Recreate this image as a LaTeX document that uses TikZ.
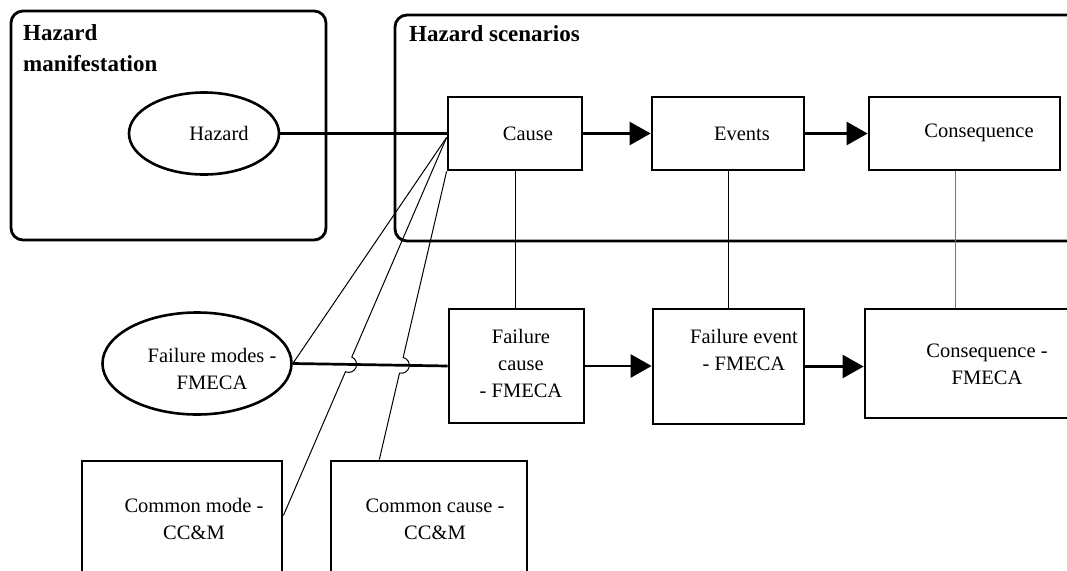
\documentclass[tikz,border=0pt]{standalone}
\usepackage{fontspec}
\setmainfont{Liberation Serif}
\usetikzlibrary{arrows.meta,shapes.geometric,calc,intersections}
\newcommand\stk[2][c]{\begin{tabular}[t]{@{}#1@{}}#2\end{tabular}}
\begin{document}
\begin{tikzpicture}[x=1pt,y=-1pt,
 container/.style={draw,line width=2.8pt,rounded corners=12pt,inner sep=0pt,rectangle},
 boxnode/.style={draw,line width=2.8pt,rectangle,inner sep=0pt},
 ellnode/.style={draw,line width=2.6pt,ellipse,inner sep=0pt},
 txt/.style={inner sep=0pt,anchor=base,font=\fontsize{20.5}{27}\selectfont},
 heading/.style={inner sep=0pt,anchor=base west,font=\fontsize{23}{31}\selectfont\bfseries},
 conn/.style={line width=2.7pt},
 flow/.style={line width=2.7pt,-{Triangle[length=21pt,width=23pt]}},
 link/.style={line width=1pt},
]
\useasboundingbox (0,0) rectangle (1067,570);
\clip (0,0) rectangle (1067,570);

% containers
\node[container, minimum width=315pt, minimum height=229pt] (hm) at (168.5,125.5) {};
\node[container, minimum width=700pt, minimum height=226pt] (hs) at (745,128) {};
\node[heading] (hm-t) at (23,40) {\stk[l]{Hazard\\manifestation}};
\node[heading] (hs-t) at (409,41) {Hazard scenarios};

% shapes
\node[ellnode, minimum width=150pt, minimum height=82pt] (hz) at (204,133.5) {};
\node[ellnode, minimum width=189pt, minimum height=102pt] (fm) at (197,363.5) {};
\node[boxnode, minimum width=134pt, minimum height=73pt] (ca) at (515,133.5) {};
\node[boxnode, minimum width=152pt, minimum height=73pt] (ev) at (728,133.5) {};
\node[boxnode, minimum width=191pt, minimum height=73pt] (co) at (964.5,133.5) {};
\node[boxnode, minimum width=135pt, minimum height=114pt] (fc) at (516.5,366) {};
\node[boxnode, minimum width=151pt, minimum height=115pt] (fe) at (728.5,366.5) {};
\node[boxnode, minimum width=225pt, minimum height=109pt] (cf) at (977.5,363.5) {};
\node[boxnode, minimum width=200pt, minimum height=139pt] (cm) at (182,530.5) {};
\node[boxnode, minimum width=196pt, minimum height=139pt] (cc) at (429,530.5) {};

% texts
\node[txt] (hz-t) at (219,140) {Hazard};
\node[txt] (ca-t) at (528,140) {Cause};
\node[txt] (ev-t) at (742,140) {Events};
\node[txt] (co-t) at (979,137) {Consequence};
\node[txt] (fm-t) at (212,362) {\stk{Failure modes -\\FMECA}};
\node[txt] (fc-t) at (521,343) {\stk{Failure\\cause\\- FMECA}};
\node[txt] (fe-t) at (744,343) {\stk{Failure event\\- FMECA}};
\node[txt] (cf-t) at (987,357) {\stk{Consequence -\\FMECA}};
\node[txt] (cm-t) at (194,512) {\stk{Common mode -\\CC\&M}};
\node[txt] (cc-t) at (435,512) {\stk{Common cause -\\CC\&M}};

% connectors
\draw[conn] (hz.east) -- (ca.west);
\draw[flow] (ca.east) -- (ev.west);
\draw[flow] (ev.east) -- (co.west);
\draw[conn, name path=hline] (fm.east) -- (fc.west);
\draw[flow] (fc.east) -- (fc.east -| fe.west);
\draw[flow] (fe.east) -- (fe.east -| cf.west);

\draw[link] (ca.south) -- (ca.south |- fc.north);
\draw[link] (ev.south) -- (ev.south |- fe.north);
\draw[link, black!55] ([xshift=-9.5pt]co.south) -- ([xshift=-9.5pt]co.south |- cf.north);

\coordinate (c0) at ([yshift=-4pt]ca.west);
\coordinate (m2) at ([yshift=15pt]cm.east);
\coordinate (m3) at ($(cc.north west)!0.25!(cc.north east)$);
\draw[link] (c0) -- (fm.east);
\path[name path=l2] (c0) -- (m2);
\path[name path=l3] (ca.south west) -- (m3);
\path[name intersections={of=hline and l2, by=x2}];
\path[name intersections={of=hline and l3, by=x3}];
\draw[link] let \p1=($(c0)-(m2)$), \n1={atan2(\y1,\x1)} in
  (c0) -- ($(x2)!8pt!(c0)$) arc[start angle=\n1, delta angle=-180, radius=8pt] -- (m2);
\draw[link] let \p1=($(ca.south west)-(m3)$), \n1={atan2(\y1,\x1)} in
  (ca.south west) -- ($(x3)!8pt!(ca.south west)$) arc[start angle=\n1, delta angle=-180, radius=8pt] -- (m3);
\end{tikzpicture}
\end{document}
